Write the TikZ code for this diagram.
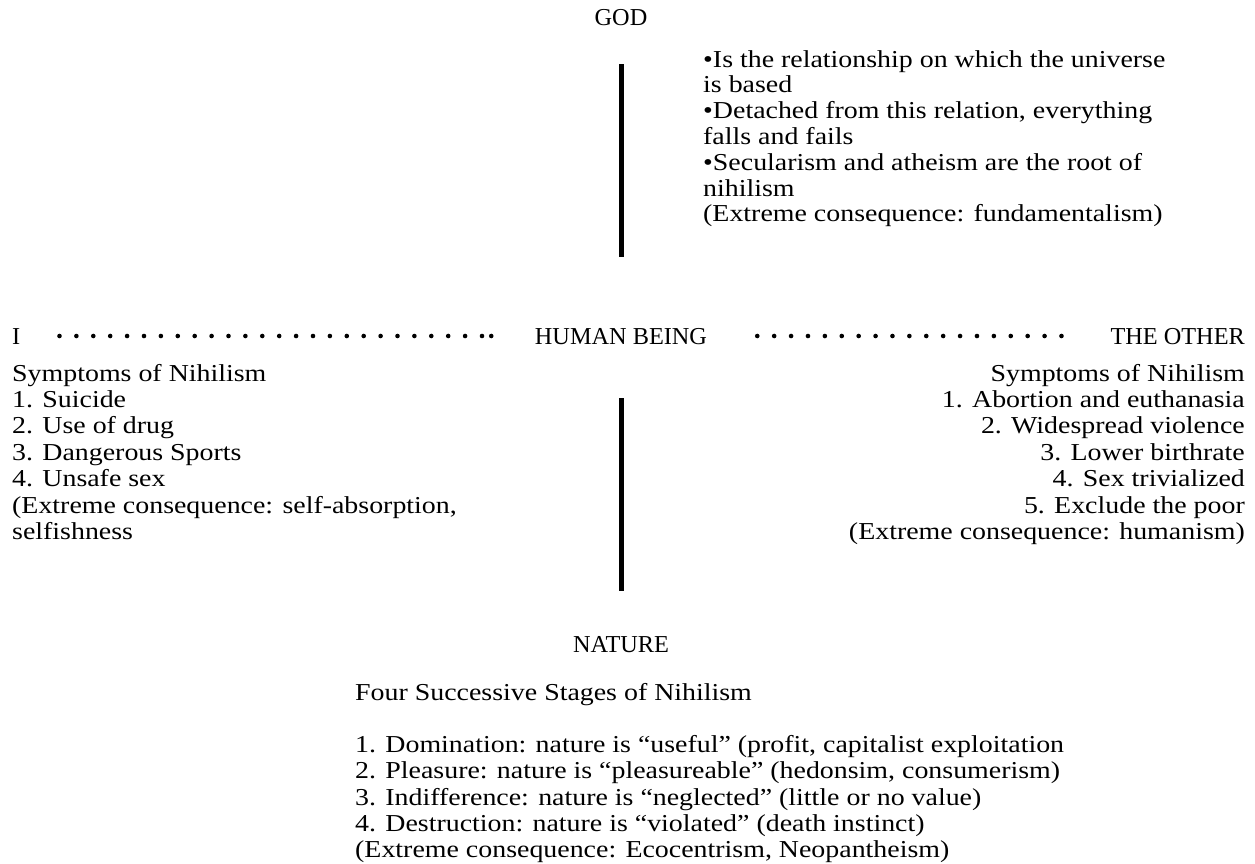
\documentclass[tikz,border=0pt]{standalone}
\usepackage{fontspec}
\setmainfont{Liberation Serif}[FakeStretch=1.148]
\newfontfamily\capsfont{Liberation Serif}
\begin{document}
\begin{tikzpicture}[x=1pt,y=-1pt,
  lbl/.style={inner sep=0pt, font=\capsfont\fontsize{24.3}{26}\selectfont},
  txt/.style={inner sep=0pt, font=\fontsize{24.3}{26.3}\selectfont},
  bar/.style={line width=5pt},
  leader/.style={line width=4.6pt, line cap=round, dash pattern=on 0pt off 16.9pt}]
\useasboundingbox (0,0) rectangle (1255,863);
% labels
\node[lbl, anchor=base] (god) at (621,25) {GOD};
\node[lbl, anchor=base] (hb) at (621,344) {HUMAN BEING};
\node[lbl, anchor=base west] (i) at (12,344) {I};
\node[lbl, anchor=base east] (other) at (1245,344) {THE OTHER};
\node[lbl, anchor=base] (nature) at (621,652) {NATURE};
% text blocks
\node[txt, anchor=base west] (godtxt) at (703,67) {\parbox[t]{540pt}{\fontsize{24.3}{25.8}\selectfont\raggedright
•Is the relationship on which the universe\\
is based\\
•Detached from this relation, everything\\
falls and fails\\
•Secularism and atheism are the root of\\
nihilism\\
(Extreme consequence: fundamentalism)}};
\node[txt, anchor=base west] (itxt) at (12,381) {\parbox[t]{540pt}{\fontsize{24.3}{26.4}\selectfont\raggedright
Symptoms of Nihilism\\
1. Suicide\\
2. Use of drug\\
3. Dangerous Sports\\
4. Unsafe sex\\
(Extreme consequence: self-absorption,\\
selfishness}};
\node[txt, anchor=base east] (othertxt) at (1245,381) {\parbox[t]{540pt}{\fontsize{24.3}{26.4}\selectfont\raggedleft
Symptoms of Nihilism\\
1. Abortion and euthanasia\\
2. Widespread violence\\
3. Lower birthrate\\
4. Sex trivialized\\
5. Exclude the poor\\
(Extreme consequence: humanism)}};
\node[txt, anchor=base west] (naturetxt) at (355,700) {\parbox[t]{880pt}{\fontsize{24.3}{26.3}\selectfont\raggedright
Four Successive Stages of Nihilism\\[26.3pt]
1. Domination: nature is “useful” (profit, capitalist exploitation\\
2. Pleasure: nature is “pleasureable” (hedonsim, consumerism)\\
3. Indifference: nature is “neglected” (little or no value)\\
4. Destruction: nature is “violated” (death instinct)\\
(Extreme consequence: Ecocentrism, Neopantheism)}};
% connectors
\draw[bar, shorten <=39pt, shorten >=71pt] (god.south) -- (hb.north);
\draw[bar, shorten <=54pt, shorten >=45pt] (hb.south) -- (nature.north);
\draw[leader, shorten <=39pt, shorten >=51pt] ([yshift=8pt]i.base east) -- ([yshift=8pt]hb.base west);
\fill ([xshift=-43.5pt,yshift=8pt]hb.base west) circle (2.3pt);
\draw[leader, shorten <=50pt, shorten >=32pt] ([yshift=8pt]hb.base east) -- ([yshift=8pt]other.base west);
\end{tikzpicture}
\end{document}
